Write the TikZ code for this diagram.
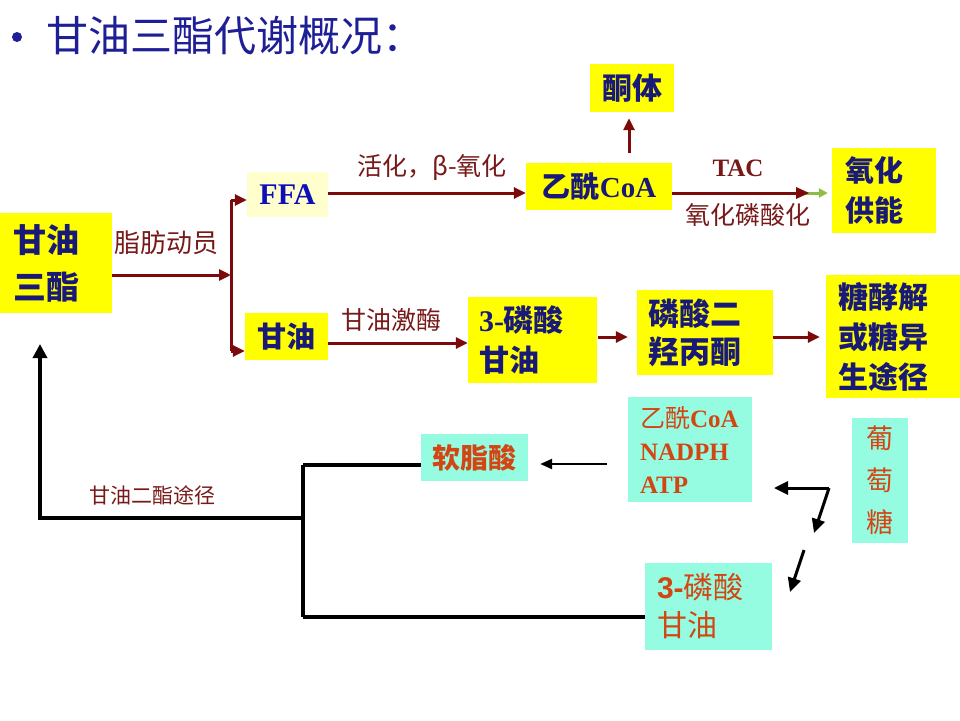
\documentclass[tikz,border=0pt]{standalone}
\usepackage{fontspec}
\setmainfont{Liberation Serif}
\newfontfamily\cjk{Noto Sans CJK SC}
\newfontfamily\arialb{Liberation Sans}
\usetikzlibrary{arrows.meta}
\definecolor{yel}{RGB}{255,255,0}
\definecolor{paleyel}{RGB}{255,255,205}
\definecolor{aqua}{RGB}{150,252,225}
\definecolor{navy}{RGB}{25,25,120}
\definecolor{ffablue}{RGB}{15,15,185}
\definecolor{titleblue}{RGB}{30,30,150}
\definecolor{dred}{RGB}{125,10,10}
\definecolor{lblred}{RGB}{120,25,25}
\definecolor{ored}{RGB}{210,70,20}
\definecolor{lgreen}{RGB}{140,190,70}
\newcommand{\fs}[2]{\fontsize{#1}{#2}\selectfont}
\begin{document}
\begin{tikzpicture}[x=1pt,y=-1pt,
  ybox/.style={fill=yel,inner sep=0pt,text=navy,font=\cjk\bfseries},
  cbox/.style={fill=aqua,inner sep=0pt,text=ored,font=\cjk},
  dim/.style 2 args={minimum width=#1pt,minimum height=#2pt},
  lbox/.style 2 args={text width=#1pt,inner xsep=#2pt,align=left},
  rarr/.style={draw=dred,line width=3pt,-{Triangle[length=12pt,width=11pt]}},
  rline/.style={draw=dred,line width=3pt},
  barr/.style={draw=black,line width=4pt,-{Triangle[length=14pt,width=14pt]}},
  bline/.style={draw=black,line width=4pt},
  tarr/.style={draw=black,line width=2.5pt,-{Triangle[length=12pt,width=10pt]}},
  karr/.style={draw=black,line width=3pt,-{Triangle[length=14pt,width=13pt]}},
  lbl/.style={text=lblred,font=\cjk,inner sep=0pt}
]
\useasboundingbox[fill=white] (0,0) rectangle (960,720);

% title
\fill[titleblue] (17,37) circle (5);
\node[anchor=west,inner sep=0pt,text=titleblue,font=\cjk\fs{42}{46}] (title) at (46,36) {甘油三酯代谢概况：};

% top boxes
\node[ybox,dim={112}{100},lbox={86}{13},font=\cjk\bfseries\fs{33}{47}] (tg) at (56,263) {甘油\\三酯};
\node[ybox,fill=paleyel,dim={81}{45},text=ffablue,font=\bfseries\fs{30}{32}] (ffa) at (287.5,194.5) {FFA};
\node[ybox,dim={146}{47},font=\fs{29}{32}] (acoa) at (599,186.5) {{\cjk\bfseries 乙酰}{\bfseries CoA}};
\node[ybox,dim={84}{48},font=\cjk\bfseries\fs{30}{32}] (ket) at (632,88) {酮体};
\node[ybox,dim={104}{85},lbox={78}{13},font=\cjk\bfseries\fs{29}{40}] (oxid) at (884,190.5) {氧化\\供能};
\node[ybox,dim={83}{47},font=\cjk\bfseries\fs{29}{32}] (gly) at (286.5,336.5) {甘油};
\node[ybox,dim={129}{86},lbox={107}{11},font=\fs{30}{40}] (g3p) at (532.5,340) {{\bfseries 3-}{\cjk\bfseries 磷酸}\\{\cjk\bfseries 甘油}};
\node[ybox,dim={136}{85},lbox={114}{11},font=\cjk\bfseries\fs{31}{38}] (dhap) at (705,332.5) {磷酸二\\羟丙酮};
\node[ybox,dim={134}{123},lbox={110}{12},font=\cjk\bfseries\fs{30}{40}] (glyco) at (893,336.5) {糖酵解\\或糖异\\生途径};

% bottom boxes
\node[cbox,dim={107}{47},font=\cjk\bfseries\fs{28}{32}] (pal) at (474.5,457.5) {软脂酸};
\node[cbox,dim={124}{105},lbox={100}{12},font=\fs{25}{33}] (cofac) at (690,449.5) {{\cjk 乙酰}{\bfseries CoA}\\{\bfseries NADPH}\\{\bfseries ATP}};
\node[cbox,dim={56}{125},align=center,font=\cjk\fs{27}{42}] (glc) at (880,480.5) {葡\\萄\\糖};
\node[cbox,dim={127}{87},lbox={103}{12},font=\fs{30}{38}] (g3pb) at (708.5,606.5) {{\arialb\bfseries 3-}{\cjk 磷酸}\\{\cjk 甘油}};

% top connectors
\coordinate (split) at (231,275);
\coordinate (brtop) at (231,200);
\coordinate (brbot) at (231,351);
\draw[rarr] (tg.east |- split) -- (split);
\draw[rline] (brtop) -- (brbot);
\draw[rarr] (brtop) -- (brtop -| ffa.west);
\draw[rarr] (brbot) -- (brbot -| gly.west);
\node[lbl,font=\cjk\fs{26}{28}] (l1) at (166,243) {脂肪动员};

\coordinate (fa) at (328,193);
\draw[rarr] (fa) -- (fa -| acoa.west);
\node[lbl,font=\cjk\fs{25}{27}] (l2) at (432,167) {活化，β-氧化};

\draw[rarr,shorten <=10pt,shorten >=6pt] (acoa.north -| 629,0) -- (ket.south -| 629,0);

\coordinate (ac) at (672,193);
\coordinate (tacend) at (803,193);
\draw[rline] (ac) -- (tacend);
\draw[draw=lgreen,line width=3pt,-{Triangle[length=9pt,width=9pt]}] (tacend) -- ([xshift=-4pt]tacend -| oxid.west);
\fill[dred] (tacend) ++(6,0) -- ++(-13,-6) -- ++(0,12) -- cycle;
\node[lbl,font=\bfseries\fs{25}{27}] (l3) at (738,168) {TAC};
\node[lbl,font=\cjk\fs{25}{27}] (l4) at (748,215) {氧化磷酸化};

\coordinate (gl) at (328,343);
\draw[rarr] (gl) -- (gl -| g3p.west);
\node[lbl,font=\cjk\fs{25}{27}] (l5) at (391,320) {甘油激酶};

\draw[rarr] (598,337) -- ([xshift=-9pt]dhap.west |- 0,337);
\draw[rarr] (dhap.east |- 0,337) -- ([xshift=-6pt]glyco.west |- 0,337);

% bottom connectors
\coordinate (dgl) at (40,518);
\coordinate (jn) at (303,518);
\coordinate (jtop) at (303,465);
\coordinate (jbot) at (303,617);
\draw[bline] (jtop) -- (jbot);
\draw[bline] (jtop) -- (jtop -| pal.west);
\draw[bline] (jbot) -- (jbot -| g3pb.west);
\draw[barr] (jn) -- (dgl) -- (40,344);
\node[lbl,font=\cjk\fs{21}{23}] (l6) at (152,495) {甘油二酯途径};

\draw[tarr] ([xshift=-21pt]cofac.west |- 0,464) -- ([xshift=12pt]pal.east |- 0,464);

\coordinate (bend) at (829,488);
\coordinate (bendA) at (774,488);
\coordinate (bendB) at (814,533);
\draw[karr] (bend) -- (bendA);
\draw[karr] (bend) -- (bendB);
\coordinate (d1) at (804,550);
\coordinate (d2) at (790,592);
\draw[karr] (d1) -- (d2);
\end{tikzpicture}
\end{document}
